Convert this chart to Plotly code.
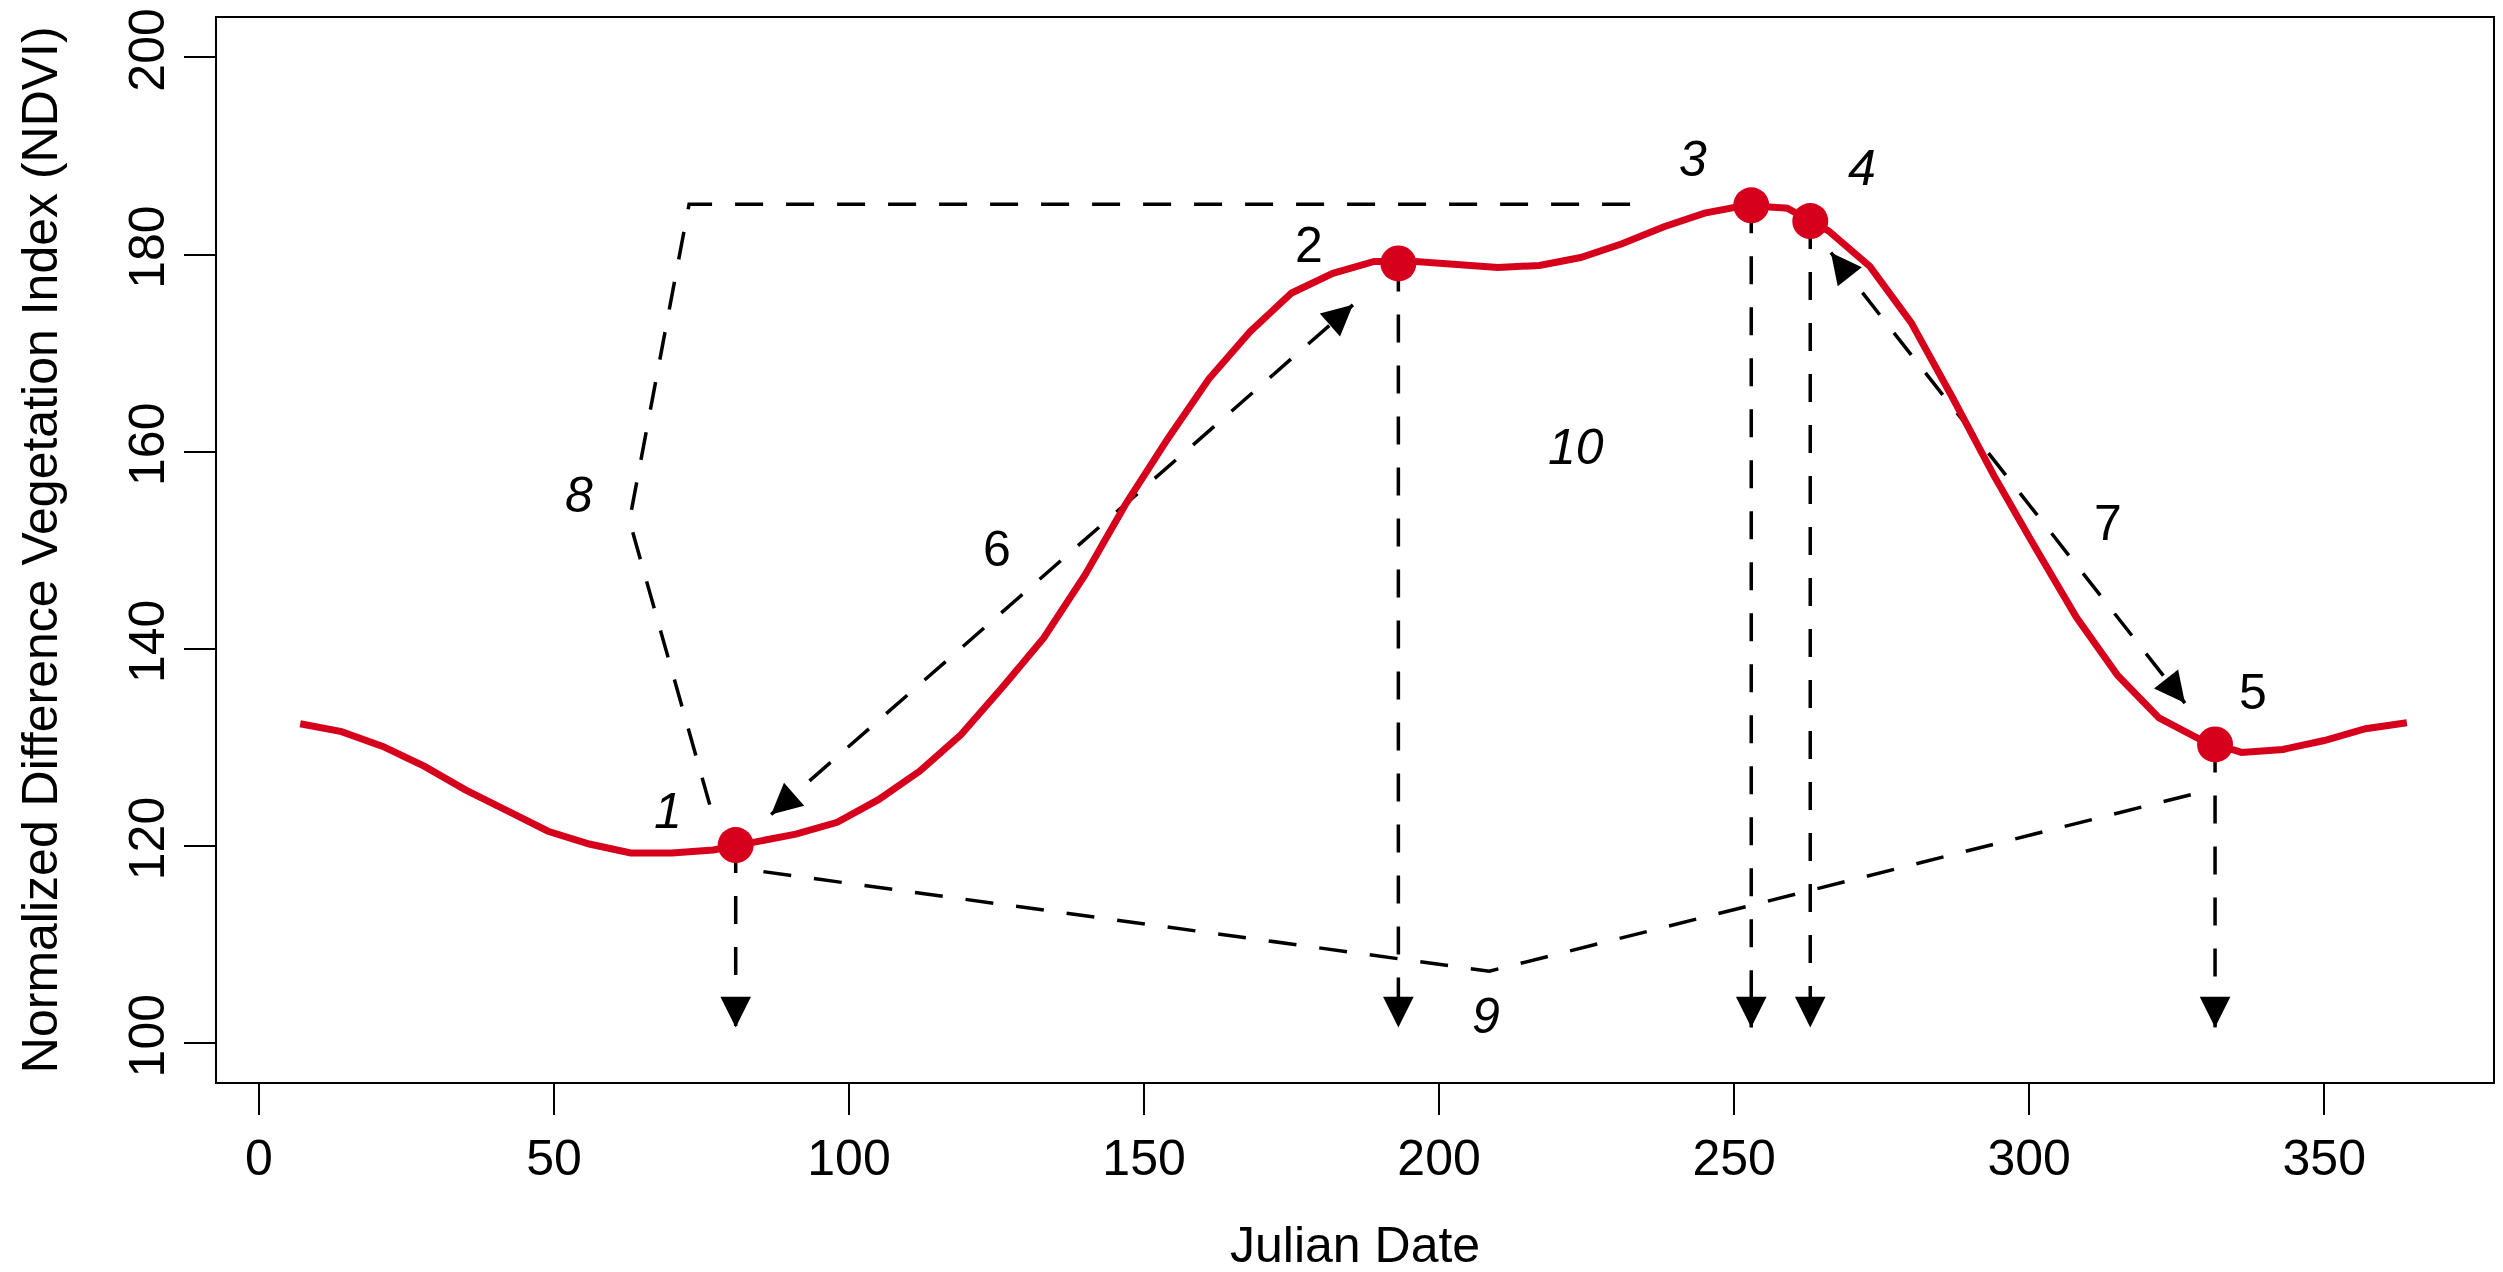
import math
import plotly.graph_objects as go

# Weekly NDVI composite over one year
julian_day = [7, 14, 21, 28, 35, 42, 49, 56, 63, 70, 77, 84, 91, 98, 105, 112,
              119, 126, 133, 140, 147, 154, 161, 168, 175, 182, 189, 196, 203,
              210, 217, 224, 231, 238, 245, 252, 259, 266, 273, 280, 287, 294,
              301, 308, 315, 322, 329, 336, 343, 350, 357, 364]
ndvi = [132.4, 131.6, 130.1, 128.1, 125.7, 123.5, 121.5, 120.2, 119.3, 119.3,
        119.6, 120.4, 121.2, 122.4, 124.7, 127.6, 131.3, 136.1, 141.1, 147.5,
        154.8, 161.3, 167.4, 172.2, 176.1, 178.1, 179.3, 179.3, 179.0, 178.7,
        178.9, 179.7, 181.1, 182.8, 184.2, 185.0, 184.7, 182.4, 178.8, 173.1,
        165.5, 157.6, 150.3, 143.2, 137.3, 133.0, 130.8, 129.5, 129.8, 130.7,
        131.9, 132.5]

# Phenological key points (start, end of green-up, peak, start of senescence, end)
key_day = [80.8, 193.1, 252.9, 262.9, 331.5]
key_ndvi = [120.1, 179.1, 185.0, 183.4, 130.3]
drop_to = 101.6

# Metric numbers written on the chart
label_text = ["1", "2", "3", "4", "5", "6", "7", "8", "9", "10"]
label_day = [69.4, 178.0, 243.1, 271.6, 338.0, 125.0, 313.4, 54.2, 207.9, 223.2]
label_ndvi = [123.6, 181.0, 189.7, 188.8, 135.6, 150.1, 152.8, 155.6, 102.8, 160.5]
label_italic = [True, False, True, True, False, False, False, True, True, True]

# Amplitude bracket (8) and base line (9)
amp_day = [76.4, 62.8, 72.9, 234.6]
amp_ndvi = [124.2, 153.0, 185.1, 185.1]
base_day = [85.5, 208.5, 328.0]
base_ndvi = [117.4, 107.3, 125.3]

# Rate arrows: green-up (6) and senescence (7)
rate_arrows = [((86.8, 123.2), (185.4, 174.9)),
               ((266.4, 180.2), (326.4, 134.5))]

x_ticks = [0, 50, 100, 150, 200, 250, 300, 350]
y_ticks = [100, 120, 140, 160, 180, 200]

RED = "#D6001C"
FONT = "Liberation Sans, Arial, Helvetica, sans-serif"
W, H = 2503, 1272
M = dict(l=217, r=8, t=14, b=190)
x_range = [-7.1, 378.6]
y_range = [96.06, 204.0]
plot_w = W - M["l"] - M["r"]
plot_h = H - M["t"] - M["b"]
px_x = plot_w / (x_range[1] - x_range[0])
px_y = plot_h / (y_range[1] - y_range[0])

DASH = "28px,23px"
LW = 3.5


def dashed(xs, ys):
    return go.Scatter(x=xs, y=ys, mode="lines",
                      line=dict(color="black", width=LW, dash=DASH),
                      hoverinfo="skip")


fig = go.Figure()
fig.add_trace(dashed(amp_day, amp_ndvi))
fig.add_trace(dashed(base_day, base_ndvi))
for d, v in zip(key_day, key_ndvi):
    fig.add_trace(dashed([d, d], [v, drop_to]))
for (a, b) in rate_arrows:
    fig.add_trace(dashed([a[0], b[0]], [a[1], b[1]]))

fig.add_trace(go.Scatter(x=julian_day, y=ndvi, mode="lines",
                         line=dict(color=RED, width=7), hoverinfo="skip"))
fig.add_trace(go.Scatter(x=key_day, y=key_ndvi, mode="markers",
                         marker=dict(color=RED, size=36, line=dict(width=0)),
                         hoverinfo="skip"))


def head(tip, tail, length=26):
    """Filled arrowhead at `tip`, oriented along the segment from `tail`."""
    dx = (tip[0] - tail[0]) * px_x
    dy = -(tip[1] - tail[1]) * px_y
    n = math.hypot(dx, dy)
    return dict(x=tip[0], y=tip[1], xref="x", yref="y", text="",
                showarrow=True, arrowhead=2, arrowsize=1.75, arrowwidth=LW,
                arrowcolor="black", ax=-dx / n * length, ay=-dy / n * length,
                standoff=0)


annotations = []
for d, v in zip(key_day, key_ndvi):
    annotations.append(head((d, drop_to), (d, v)))
for (a, b) in rate_arrows:
    annotations.append(head(a, b))
    annotations.append(head(b, a))

for t, d, v, it in zip(label_text, label_day, label_ndvi, label_italic):
    annotations.append(dict(x=d, y=v, xref="x", yref="y",
                            text=f"<i>{t}</i>" if it else t, showarrow=False,
                            font=dict(family=FONT, size=50, color="black")))

# Axis titles
annotations.append(dict(x=0.5, y=-(1246 - (H - M["b"])) / plot_h,
                        xref="paper", yref="paper", text="Julian Date",
                        showarrow=False, xanchor="center", yanchor="middle",
                        font=dict(family=FONT, size=50, color="black")))
annotations.append(dict(x=-(M["l"] - 40) / plot_w, y=0.5,
                        xref="paper", yref="paper",
                        text="Normalized Difference Vegetation Index (NDVI)",
                        showarrow=False, textangle=-90, xanchor="center",
                        yanchor="middle",
                        font=dict(family=FONT, size=50, color="black")))

axis_common = dict(showgrid=False, zeroline=False, showline=True,
                   linecolor="black", linewidth=2, mirror=True,
                   ticks="outside", ticklen=31, tickwidth=2, tickcolor="black",
                   tickfont=dict(family=FONT, size=50, color="black"))

fig.update_layout(
    width=W, height=H, margin=M,
    paper_bgcolor="white", plot_bgcolor="white",
    showlegend=False,
    xaxis=dict(range=x_range, tickvals=x_ticks, **axis_common),
    yaxis=dict(range=y_range, tickvals=y_ticks, tickangle=-90, **axis_common),
    annotations=annotations,
)

fig.write_html("out.html")
